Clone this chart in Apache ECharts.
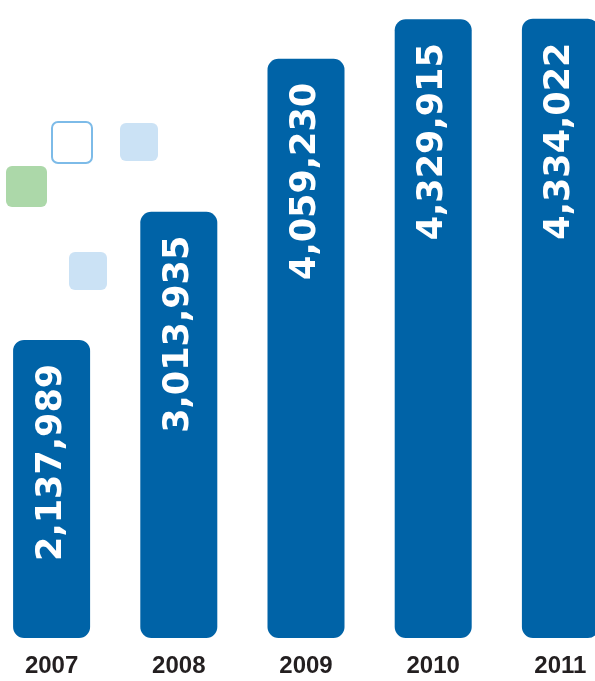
<!DOCTYPE html>
<html>
<head>
<meta charset="utf-8">
<script src="https://cdn.jsdelivr.net/npm/echarts@6/dist/echarts.min.js"></script>
<style>html,body{margin:0;padding:0;background:#fff;}#c{width:595px;height:681px;}</style>
</head>
<body>
<div id="c"></div>
<script>
var categories = ['2007', '2008', '2009', '2010', '2011'];
var values = [2137989, 3013935, 4059230, 4329915, 4334022];

var chart = echarts.init(document.getElementById('c'), null, {renderer: 'canvas'});
chart.setOption({
  animation: false,
  backgroundColor: '#ffffff',
  grid: {left: -12, width: 636, top: 9, bottom: 43, containLabel: false, outerBoundsMode: 'none'},
  xAxis: {
    type: 'category',
    data: categories,
    axisLine: {show: false},
    axisTick: {show: false},
    axisLabel: {
      margin: 16,
      verticalAlign: 'top',
      color: '#231f20',
      fontFamily: 'Liberation Sans',
      fontWeight: 'bold',
      fontSize: 24
    }
  },
  yAxis: {
    type: 'value',
    min: 100000,
    max: 4400000,
    show: false,
    splitLine: {show: false}
  },
  graphic: [
    {type: 'rect', left: 51, top: 121, shape: {width: 40, height: 41, r: 6}, style: {fill: '#ffffff', stroke: '#7dbbe8', lineWidth: 2}, silent: true},
    {type: 'rect', left: 120, top: 123, shape: {width: 38, height: 38, r: 6}, style: {fill: '#cbe2f5'}, silent: true},
    {type: 'rect', left: 6, top: 166, shape: {width: 41, height: 41, r: 6}, style: {fill: '#acd8a9'}, silent: true},
    {type: 'rect', left: 69, top: 252, shape: {width: 38, height: 38, r: 6}, style: {fill: '#cbe2f5'}, silent: true}
  ],
  series: [{
    type: 'bar',
    data: values,
    barWidth: 77,
    itemStyle: {color: '#0063a7', borderRadius: 11},
    label: {
      show: true,
      position: 'insideTop',
      rotate: 90,
      align: 'right',
      verticalAlign: 'middle',
      distance: 24,
      padding: [10, 0, 0, 0],
      color: '#ffffff',
      fontFamily: 'DejaVu Sans',
      fontWeight: 'bold',
      fontSize: 35,
      formatter: function (p) { return p.value.toLocaleString('en-US'); }
    }
  }]
});
</script>
</body>
</html>
